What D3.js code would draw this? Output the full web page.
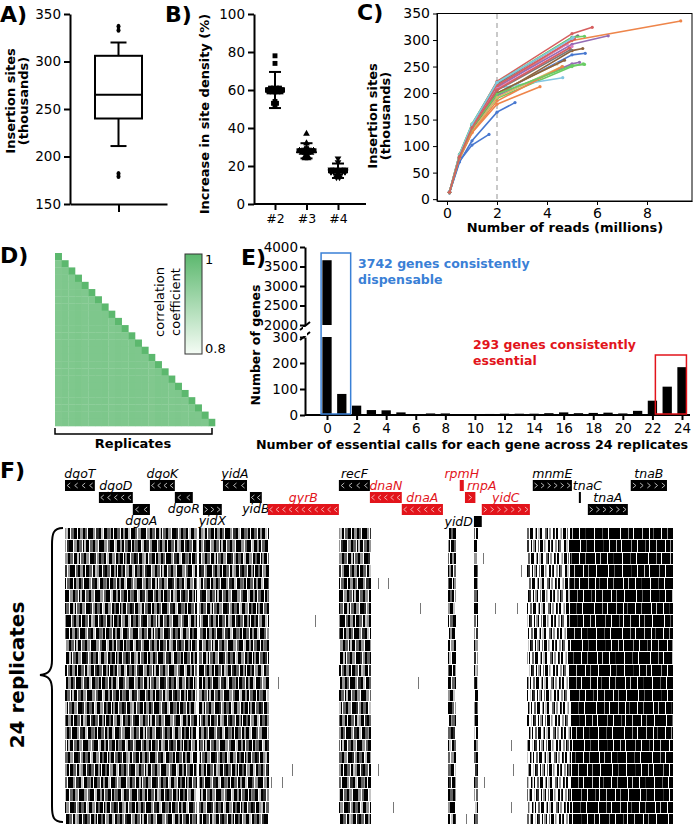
<!DOCTYPE html>
<html><head><meta charset="utf-8">
<script src="https://cdn.jsdelivr.net/npm/d3@7/dist/d3.min.js"></script>
<style>
body{margin:0;background:#fff;}
svg text{font-family:"DejaVu Sans",Verdana,sans-serif;}
</style></head>
<body><svg id="fig" width="700" height="824" xmlns="http://www.w3.org/2000/svg"></svg>
<script>
// ================= DATA =================
// Panel A: insertion sites per replicate (thousands)
const aBoxStats = {whiskerLow: 211, q1: 240, median: 265, q3: 306, whiskerHigh: 320};
const aOutliers = [337, 333, 182, 179];
const aTicks = [150, 200, 250, 300, 350];

// Panel B: increase in site density (%)
const bGroups = ["#2", "#3", "#4"];
const bValues2 = [78, 74, 60, 60, 60, 61, 61, 59, 59, 60, 60, 61, 59, 60, 60, 59, 61, 60, 60, 59, 54, 53, 52, 53];
const bValues3 = [37, 32, 28, 28, 28, 28, 28, 27, 27, 28, 29, 28, 27, 28, 28, 29, 28, 27, 28, 25, 25, 24, 24, 28];
const bValues4 = [24, 22, 18, 18, 17, 17, 18, 17, 18, 17, 17, 18, 17, 18, 17, 17, 18, 17, 15, 15, 14, 14, 18, 17];
const bMean = [60, 28, 17.5];
const bSD = [9.5, 4, 3.8];
const bTicks = [0, 20, 40, 60, 80, 100];

// Panel C: saturation curves
const cDepths = [0.1, 0.5, 1, 2, 5];
const cTotalReads = [5.53, 9.35, 5.45, 5.81, 6.45, 5.43, 4.8, 5.23, 4.4, 4.63, 1.68, 3.72,
                     5.5, 5.1, 5.3, 4.7, 5.0, 4.95, 4.6, 5.05, 2.72, 4.62, 5.5, 4.9];
const cSites = [
  [14, 80, 128, 198, 272, 275], [13, 82, 135, 210, 299, 336], [12, 76, 130, 190, 250, 255],
  [14, 84, 140, 222, 312, 324], [13, 80, 137, 212, 292, 308], [14, 79, 132, 196, 280, 284],
  [13, 82, 138, 215, 292], [14, 83, 139, 217, 305, 308], [13, 78, 131, 200, 255],
  [14, 80, 133, 209, 229], [12, 72, 102, 122], [13, 77, 125, 179, 212],
  [14, 85, 142, 220, 305, 307], [13, 81, 136, 214, 300, 302], [13, 78, 130, 195, 255, 258],
  [13, 79, 131, 200, 262], [14, 80, 134, 208, 288], [13, 79, 133, 205, 282],
  [12, 77, 128, 192, 250], [14, 84, 141, 220, 303, 305], [12, 70, 110, 164, 182],
  [13, 77, 126, 185, 250], [13, 80, 134, 198, 252, 254], [13, 80, 135, 206, 285]
];
const cXTicks = [0, 2, 4, 6, 8];
const cYTicks = [0, 50, 100, 150, 200, 250, 300, 350];
const cCutoff = 2;

// Panel D: pairwise correlation (column-wise off-diagonal values, diagonal = 1)
const dColumnCorr = [0.952, 0.956, 0.954, 0.957, 0.953, 0.956, 0.955, 0.957, 0.953, 0.956, 0.954, 0.957,
                     0.955, 0.956, 0.952, 0.957, 0.955, 0.954, 0.956, 0.953, 0.957, 0.955, 0.954, 0.956];
const dScaleTicks = [0.8, 1];

// Panel E: histogram of essential calls
const eCalls = [0,1,2,3,4,5,6,7,8,9,10,11,12,13,14,15,16,17,18,19,20,21,22,23,24];
const eCounts = [3661, 81, 36, 19, 18, 10, 2, 6, 6, 2, 2, 4, 5, 5, 5, 7, 10, 7, 8, 9, 6, 16, 55, 109, 184];
const eYTicksLow = [0, 100, 200, 300];
const eYTicksHigh = [2000, 2500, 3000, 3500, 4000];
const eXTicks = [0, 2, 4, 6, 8, 10, 12, 14, 16, 18, 20, 22, 24];

// Panel F: genes (kb), insertion-dense blocks, isolated insertions
const fGenes = [
  {name: "dgoT", start: 3868.73, end: 3869.76, strand: "-", lane: 0, essential: false},
  {name: "dgoD", start: 3869.90, end: 3871.07, strand: "-", lane: 1, essential: false},
  {name: "dgoA", start: 3871.07, end: 3871.66, strand: "-", lane: 2, essential: false},
  {name: "dgoK", start: 3871.66, end: 3872.52, strand: "-", lane: 0, essential: false},
  {name: "dgoR", start: 3872.52, end: 3873.14, strand: "-", lane: 1, essential: false},
  {name: "yidX", start: 3873.49, end: 3874.14, strand: "+", lane: 2, essential: false},
  {name: "yidA", start: 3874.18, end: 3875.01, strand: "-", lane: 0, essential: false},
  {name: "yidB", start: 3875.11, end: 3875.52, strand: "-", lane: 1, essential: false},
  {name: "gyrB", start: 3875.73, end: 3878.18, strand: "-", lane: 2, essential: true},
  {name: "recF", start: 3878.18, end: 3879.25, strand: "-", lane: 0, essential: false},
  {name: "dnaN", start: 3879.25, end: 3880.35, strand: "-", lane: 1, essential: true},
  {name: "dnaA", start: 3880.35, end: 3881.77, strand: "-", lane: 2, essential: true},
  {name: "rpmH", start: 3882.35, end: 3882.49, strand: "+", lane: 0, essential: true},
  {name: "rnpA", start: 3882.53, end: 3882.89, strand: "+", lane: 1, essential: true},
  {name: "yidD", start: 3882.84, end: 3883.11, strand: "+", lane: 3, essential: false},
  {name: "yidC", start: 3883.11, end: 3884.77, strand: "+", lane: 2, essential: true},
  {name: "mnmE", start: 3884.87, end: 3886.22, strand: "+", lane: 0, essential: false},
  {name: "tnaC", start: 3886.46, end: 3886.53, strand: "+", lane: 1, essential: false},
  {name: "tnaA", start: 3886.77, end: 3888.15, strand: "+", lane: 2, essential: false},
  {name: "tnaB", start: 3888.25, end: 3889.50, strand: "+", lane: 0, essential: false}
];
const fInsertBlocks = [
  {start: 3868.73, end: 3873.28, density: "mid"},
  {start: 3873.35, end: 3875.76, density: "mid"},
  {start: 3878.18, end: 3879.28, density: "mid"},
  {start: 3881.94, end: 3882.22, density: "mid"},
  {start: 3882.84, end: 3882.98, density: "mid"},
  {start: 3884.67, end: 3886.15, density: "low"},
  {start: 3886.15, end: 3889.70, density: "high"}
];
const fSparseHits = [
  [2, 3883.15], [3, 3884.46], [4, 3879.53], [4, 3879.87], [6, 3880.97], [6, 3883.56], [6, 3884.32],
  [7, 3877.35], [12, 3876.08], [12, 3880.91], [17, 3884.11], [19, 3876.56], [19, 3879.53],
  [19, 3884.18], [20, 3875.83], [20, 3876.21], [20, 3883.18], [22, 3880.04], [22, 3884.11], [23, 3882.56]
];
const fReplicates = 24;

// ================= DRAWING =================
const svg = d3.select("#fig");
const FONT = '"DejaVu Sans", Verdana, sans-serif';
const RED = "#e2141b", BLUE = "#3a80d6";

function panelLabel(t, x, y) {
  svg.append("text").attr("x", x).attr("y", y).attr("font-size", 22).attr("font-weight", "bold").text(t);
}
function styleAxis(g, sw, fs) {
  g.select(".domain").attr("stroke", "#000").attr("stroke-width", sw);
  g.selectAll(".tick line").attr("stroke", "#000").attr("stroke-width", sw);
  g.selectAll(".tick text").attr("font-family", FONT).attr("font-size", fs).attr("fill", "#000");
}
function rotLabel(lines, x0, dx, yc, fs, weight) {
  lines.forEach((t, i) => {
    const x = x0 + i * dx;
    svg.append("text").attr("transform", `translate(${x},${yc}) rotate(-90)`)
      .attr("text-anchor", "middle").attr("font-size", fs).attr("font-weight", weight).text(t);
  });
}

// ---------- Panel A ----------
panelLabel("A)", 0, 22);
{
  const y = d3.scaleLinear().domain([150, 350]).range([204, 14]);
  const x = d3.scalePoint().domain(["all"]).range([70, 167]).padding(0.5);
  svg.append("g").attr("transform", "translate(70,0)")
    .call(d3.axisLeft(y).tickValues(aTicks).tickSize(6).tickSizeOuter(0).tickPadding(3))
    .call(g => styleAxis(g, 2, 13.5));
  svg.append("g").attr("transform", "translate(0,204)")
    .call(d3.axisBottom(x).tickSize(8).tickSizeOuter(0).tickFormat(""))
    .call(g => styleAxis(g, 2, 13.5));
  const cx = x("all"), bw = 47, cw = 16;
  const g = svg.append("g").attr("stroke", "#000").attr("stroke-width", 2).attr("fill", "none");
  g.append("line").attr("x1", cx).attr("x2", cx).attr("y1", y(aBoxStats.q3)).attr("y2", y(aBoxStats.whiskerHigh));
  g.append("line").attr("x1", cx).attr("x2", cx).attr("y1", y(aBoxStats.q1)).attr("y2", y(aBoxStats.whiskerLow));
  g.append("line").attr("x1", cx - cw / 2).attr("x2", cx + cw / 2).attr("y1", y(aBoxStats.whiskerHigh)).attr("y2", y(aBoxStats.whiskerHigh));
  g.append("line").attr("x1", cx - cw / 2).attr("x2", cx + cw / 2).attr("y1", y(aBoxStats.whiskerLow)).attr("y2", y(aBoxStats.whiskerLow));
  g.append("rect").attr("x", cx - bw / 2).attr("width", bw).attr("y", y(aBoxStats.q3)).attr("height", y(aBoxStats.q1) - y(aBoxStats.q3)).attr("fill", "#fff");
  g.append("line").attr("x1", cx - bw / 2).attr("x2", cx + bw / 2).attr("y1", y(aBoxStats.median)).attr("y2", y(aBoxStats.median));
  svg.append("g").selectAll("ellipse").data(aOutliers).join("ellipse")
    .attr("cx", cx).attr("cy", d => y(d)).attr("rx", 2).attr("ry", 2.6).attr("fill", "#000");
  rotLabel(["Insertion sites", "(thousands)"], 15, 13, 101, 13, "bold");
}

// ---------- Panel B ----------
panelLabel("B)", 165, 22);
{
  const y = d3.scaleLinear().domain([0, 100]).range([204, 14]);
  const x = d3.scalePoint().domain(bGroups).range([275, 338]);
  svg.append("g").attr("transform", "translate(254,0)")
    .call(d3.axisLeft(y).tickValues(bTicks).tickSize(6).tickSizeOuter(0).tickPadding(3))
    .call(g => styleAxis(g, 2, 13.5));
  const xa = svg.append("g").attr("transform", "translate(0,204)")
    .call(d3.axisBottom(x).tickSize(6).tickSizeOuter(0).tickPadding(4))
    .call(g => styleAxis(g, 2, 12.5));
  xa.select(".domain").attr("d", "M254,0H366");
  const vals = [bValues2, bValues3, bValues4];
  const shapes = [d3.symbolSquare, d3.symbolTriangle, d3.symbolTriangle];
  vals.forEach((arr, gi) => {
    const cx = x(bGroups[gi]);
    const counts = d3.rollup(arr, v => v.length, d => d);
    const seen = new Map();
    arr.forEach(v => {
      const n = counts.get(v), k = seen.get(v) || 0; seen.set(v, k + 1);
      const off = Math.max(-7, Math.min(7, (k - (n - 1) / 2) * 3));
      svg.append("path").attr("d", d3.symbol().type(shapes[gi]).size(gi === 0 ? 24 : 20)())
        .attr("transform", `translate(${cx + off},${y(v)})${gi === 2 ? " rotate(180)" : ""}`)
        .attr("fill", "#000");
    });
    const g = svg.append("g").attr("stroke", "#000").attr("stroke-width", 2);
    g.append("line").attr("x1", cx).attr("x2", cx).attr("y1", y(bMean[gi] + bSD[gi])).attr("y2", y(bMean[gi] - bSD[gi]));
    [1, -1].forEach(s => g.append("line").attr("x1", cx - 6).attr("x2", cx + 6)
      .attr("y1", y(bMean[gi] + s * bSD[gi])).attr("y2", y(bMean[gi] + s * bSD[gi])));
    svg.append("rect").attr("x", cx - 10).attr("width", 20).attr("y", y(bMean[gi]) - 2.5).attr("height", 5).attr("fill", "#000");
  });
  rotLabel(["Increase in site density (%)"], 209, 0, 114, 13, "bold");
}

// ---------- Panel C ----------
panelLabel("C)", 357, 20);
{
  const x = d3.scaleLinear().domain([-0.4, 9.8]).range([437, 692]);
  const y = d3.scaleLinear().domain([-3.5, 350]).range([201, 13.5]);
  const pal = ["#4878d0", "#ee854a", "#6acc64", "#d65f5f", "#956cb4", "#8c613c", "#dc7ec0", "#797979", "#d5bb67", "#82c6e2"];
  svg.append("g").attr("transform", "translate(437,0)")
    .call(d3.axisLeft(y).tickValues(cYTicks).tickSize(4).tickSizeOuter(0).tickPadding(3))
    .call(g => styleAxis(g, 1, 14));
  svg.append("g").attr("transform", "translate(0,201)")
    .call(d3.axisBottom(x).tickValues(cXTicks).tickSize(4).tickSizeOuter(0).tickPadding(3))
    .call(g => styleAxis(g, 1, 14));
  svg.append("rect").attr("x", 437).attr("y", 13.5).attr("width", 255).attr("height", 187.5)
    .attr("fill", "none").attr("stroke", "#000").attr("stroke-width", 1);
  svg.append("line").attr("x1", x(cCutoff)).attr("x2", x(cCutoff)).attr("y1", 14).attr("y2", 200)
    .attr("stroke", "#b8b8b8").attr("stroke-width", 1.5).attr("stroke-dasharray", "5,4");
  const line = d3.line().x(d => x(d[0])).y(d => y(d[1]));
  cSites.forEach((s, i) => {
    const xs = cDepths.filter(d => d < cTotalReads[i]).concat([cTotalReads[i]]);
    const pts = s.map((v, k) => [xs[k], v]);
    const col = pal[i % 10];
    svg.append("path").attr("d", line(pts)).attr("fill", "none").attr("stroke", col).attr("stroke-width", 1.6);
    svg.append("g").selectAll("circle").data(pts).join("circle")
      .attr("cx", d => x(d[0])).attr("cy", d => y(d[1])).attr("r", 1.6).attr("fill", col);
  });
  svg.append("text").attr("x", 565).attr("y", 232).attr("text-anchor", "middle").attr("font-size", 13)
    .attr("font-weight", "bold").text("Number of reads (millions)");
  rotLabel(["Insertion sites", "(thousands)"], 377, 13, 116, 13, "bold");
}

// ---------- Panel D ----------
panelLabel("D)", 0, 263);
{
  const idx = dColumnCorr.map((d, i) => i);
  const bx = d3.scaleBand().domain(idx).range([55, 215]);
  const by = d3.scaleBand().domain(idx).range([253, 426]);
  const color = d3.scaleLinear().domain([0.8, 1]).range(["#f5fcf5", "#5cb86e"]);
  const cells = [];
  idx.forEach(r => idx.forEach(c => { if (c <= r) cells.push({r, c, v: c === r ? 1 : dColumnCorr[c]}); }));
  svg.append("g").selectAll("rect").data(cells).join("rect")
    .attr("x", d => bx(d.c)).attr("y", d => by(d.r)).attr("width", bx.bandwidth() + 0.3).attr("height", by.bandwidth() + 0.3)
    .attr("fill", d => color(d.v));
  svg.append("path").attr("d", "M55,428V434H212V428").attr("fill", "none").attr("stroke", "#000").attr("stroke-width", 1.5);
  svg.append("text").attr("x", 133).attr("y", 448).attr("text-anchor", "middle").attr("font-size", 13)
    .attr("font-weight", "bold").text("Replicates");
  const defs = svg.append("defs");
  const grad = defs.append("linearGradient").attr("id", "cbar").attr("x1", 0).attr("x2", 0).attr("y1", 0).attr("y2", 1);
  grad.append("stop").attr("offset", "0%").attr("stop-color", color(1));
  grad.append("stop").attr("offset", "100%").attr("stop-color", color(0.8));
  const cy = d3.scaleLinear().domain([0.8, 1]).range([354, 254]);
  svg.append("rect").attr("x", 185).attr("y", cy(1)).attr("width", 17).attr("height", cy(0.8) - cy(1))
    .attr("fill", "url(#cbar)").attr("stroke", "#333").attr("stroke-width", 1);
  dScaleTicks.forEach(t => svg.append("text").attr("x", 205).attr("y", cy(t) + (t === 1 ? 10 : -1))
    .attr("font-size", 13).text(t === 1 ? "1" : "0.8"));
  rotLabel(["correlation", "coefficient"], 164, 16, 302, 13, "normal");
}

// ---------- Panel E ----------
panelLabel("E)", 241, 265);
{
  const x = d3.scaleLinear().domain([0, 24]).range([327, 682]);
  const yL = d3.scaleLinear().domain([0, 300]).range([415, 337]);
  const yH = d3.scaleLinear().domain([2000, 4000]).range([325, 247]);
  const fmt = d3.format("d");
  svg.append("g").attr("transform", "translate(305,0)")
    .call(d3.axisLeft(yL).tickValues(eYTicksLow).tickFormat(fmt).tickSize(5).tickSizeOuter(0).tickPadding(2))
    .call(g => styleAxis(g, 2, 13.5));
  svg.append("g").attr("transform", "translate(305,0)")
    .call(d3.axisLeft(yH).tickValues(eYTicksHigh).tickFormat(fmt).tickSize(5).tickSizeOuter(0).tickPadding(2))
    .call(g => styleAxis(g, 2, 13.5));
  const xa = svg.append("g").attr("transform", "translate(0,415)")
    .call(d3.axisBottom(x).tickValues(eXTicks).tickSize(5).tickSizeOuter(0).tickPadding(3))
    .call(g => styleAxis(g, 2, 13.5));
  xa.select(".domain").attr("d", "M305,0H690");
  svg.append("path").attr("d", "M300,330L310,322M300,340L310,332").attr("stroke", "#000").attr("stroke-width", 2);
  svg.append("rect").attr("x", 303).attr("y", 327).attr("width", 4).attr("height", 9).attr("fill", "#fff");
  const bw = 9.3;
  eCounts.forEach((v, i) => {
    const cx = x(eCalls[i]);
    svg.append("rect").attr("x", cx - bw / 2).attr("width", bw).attr("y", yL(Math.min(v, 300))).attr("height", 415 - yL(Math.min(v, 300))).attr("fill", "#000");
    if (v > 2000) svg.append("rect").attr("x", cx - bw / 2).attr("width", bw).attr("y", yH(v)).attr("height", yH(2000) - yH(v)).attr("fill", "#000");
  });
  svg.append("rect").attr("x", x(-0.4)).attr("width", x(1.6) - x(-0.4)).attr("y", 253).attr("height", 161)
    .attr("fill", "none").attr("stroke", BLUE).attr("stroke-width", 1.5);
  svg.append("rect").attr("x", x(22.2)).attr("width", x(24.3) - x(22.2)).attr("y", 355).attr("height", 59)
    .attr("fill", "none").attr("stroke", RED).attr("stroke-width", 1.5);
  const tb = svg.append("text").attr("font-size", 12.5).attr("font-weight", "bold").attr("fill", BLUE);
  tb.append("tspan").attr("x", 358).attr("y", 268).text((eCounts[0] + eCounts[1]) + " genes consistently");
  tb.append("tspan").attr("x", 358).attr("y", 284).text("dispensable");
  const tr = svg.append("text").attr("font-size", 12.5).attr("font-weight", "bold").attr("fill", RED);
  tr.append("tspan").attr("x", 473).attr("y", 349).text((eCounts[23] + eCounts[24]) + " genes consistently");
  tr.append("tspan").attr("x", 473).attr("y", 365).text("essential");
  rotLabel(["Number of genes"], 260, 0, 345, 12.5, "bold");
  svg.append("text").attr("x", 472).attr("y", 449).attr("text-anchor", "middle").attr("font-size", 12.7)
    .attr("font-weight", "bold").text("Number of essential calls for each gene across 24 replicates");
}

// ---------- Panel F ----------
panelLabel("F)", 0, 478);
{
  const x = d3.scaleLinear().domain([3868.73, 3889.57]).range([65, 669]);
  const laneTop = 480, laneStep = 12, boxH = 11;
  const labelPlace = {rnpA: ["above", "start", 2], tnaC: ["above", "start", -6], yidD: ["left", "end", -1],
    dgoA: ["below"], dgoR: ["below"], yidX: ["below"], yidB: ["below"]};
  const gf = svg.append("g");
  fGenes.forEach(g => {
    const x0 = x(g.start), x1 = x(g.end), w = x1 - x0, yt = laneTop + g.lane * laneStep;
    const col = g.essential ? RED : "#000";
    gf.append("rect").attr("x", x0).attr("y", yt).attr("width", w).attr("height", boxH).attr("fill", col);
    if (w >= 9) {
      const nC = Math.max(1, Math.round((w - 2) / 6.5));
      const sp = w / nC, s = g.strand === "-" ? 1 : -1, cy = yt + boxH / 2;
      for (let k = 0; k < nC; k++) {
        const cx = x0 + (k + 0.5) * sp;
        gf.append("path").attr("d", `M${cx + 1.5 * s},${cy - 2.5}L${cx - 1.5 * s},${cy}L${cx + 1.5 * s},${cy + 2.5}`)
          .attr("fill", "none").attr("stroke", g.essential ? "#f6b8b8" : "#c8c8c8").attr("stroke-width", 0.9);
      }
    }
    const pl = labelPlace[g.name] || ["above"];
    let lx = (x0 + x1) / 2, ly = yt - 2.5, anchor = "middle";
    if (pl[0] === "below") ly = yt + boxH + 10;
    if (pl[0] === "left") { lx = x0 + pl[2]; ly = yt + boxH - 1; anchor = "end"; }
    else if (pl[1] === "start") { lx = x0 + pl[2]; anchor = "start"; }
    gf.append("text").attr("x", lx).attr("y", ly).attr("text-anchor", anchor)
      .attr("font-family", '"Liberation Sans", Arial, sans-serif').attr("font-style", "italic")
      .attr("font-size", 12.5).attr("fill", col).text(g.name);
  });

  // column textures (pure styling), run-length encoded: colour letter + width in px
  const texColors = {k: "#000", d: "#303030", g: "#626262", m: "#949494", l: "#c4c4c4", w: "#fff"};
  const rle = {
    mid:  "k3w1m3k2g3w1k3l2k1w1g3k2m3w1k4d2w1m2k2g3k2w1l2k3m3w1k2g2k3w1k1m2k3w1g3k2d2w1k3m2l2k2w1g3k3w1k2m3k2" +
          "g2w1k5m2w1d3k2l2w1k3g3m1k2w1k3g3w1k2m2k3l2w1k4g2w1m3k2",
    high: "k5w1k7m1k4w1k8l1k6w1k3g1k7w1k5m1k9w1k4l1k6w1k5d1k8w1k7g1k5w1k6",
    low:  "k1w2m1k1w1l2k2w3g2k1w1m2w2k1d1w1k2w2l1m1w1k3w1g1w2k1m2w1k1w2d2k1w1l1w2k2m1w1g2k1w3k1m1w1" +
          "k2w1g1l1w2k1m1w1k1w2g2w1k2"
  };
  const textures = {};
  Object.keys(rle).forEach(t => {
    let s = "";
    rle[t].replace(/([a-z])(\d+)/g, (m, c, n) => { s += c.repeat(+n); return m; });
    textures[t] = s;
  });
  const rows = d3.range(fReplicates);
  const ry = d3.scaleBand().domain(rows).range([528, 528 + 12.4 * fReplicates]).paddingInner(0.08);
  const gh = svg.append("g").attr("shape-rendering", "crispEdges");
  rows.forEach(r => {
    fInsertBlocks.forEach((b, bi) => {
      const str = textures[b.density], L = str.length;
      const off = (r * 41 + bi * 23 + 17) % L, rev = r % 2 === 1;
      const x0 = Math.round(x(b.start)), x1 = Math.round(x(b.end));
      const ch = c => { const i = ((c + off) % L + L) % L; return str[rev ? L - 1 - i : i]; };
      let c = x0;
      while (c < x1) {
        const t = ch(c); let e = c + 1;
        while (e < x1 && ch(e) === t) e++;
        if (t !== "w") gh.append("rect").attr("x", c).attr("width", e - c).attr("y", ry(r)).attr("height", ry.bandwidth()).attr("fill", texColors[t]);
        c = e;
      }
    });
  });
  gh.selectAll("rect.hit").data(fSparseHits).join("rect").attr("class", "hit")
    .attr("x", d => x(d[1])).attr("width", 1.2).attr("y", d => ry(d[0])).attr("height", ry.bandwidth()).attr("fill", "#777");
  svg.append("path").attr("d", "M63,528C53,528 52,534 52,545L52,660C52,670 49,674 40,675C49,676 52,680 52,690L52,806C52,816 53,822 63,822")
    .attr("fill", "none").attr("stroke", "#000").attr("stroke-width", 2);
  rotLabel(["24 replicates"], 24, 0, 675, 20, "bold");
}
</script>
</body></html>
